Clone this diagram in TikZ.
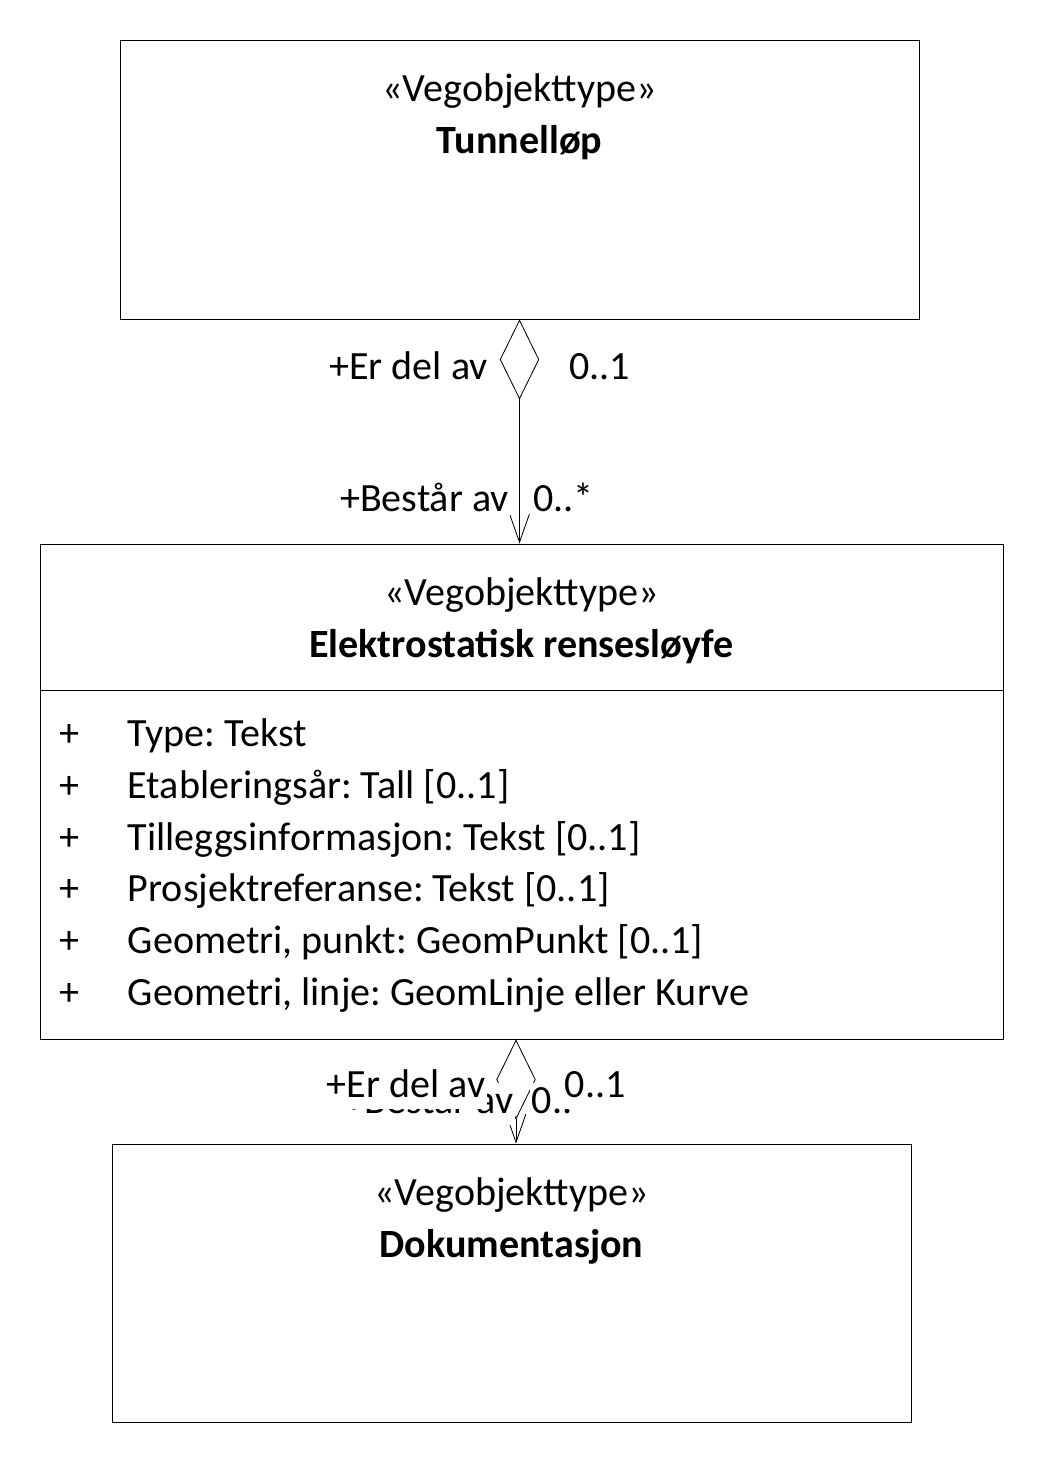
\documentclass[tikz,border=0pt]{standalone}
\usepackage{fontspec}
\setmainfont{Carlito}
\usetikzlibrary{positioning,calc,arrows.meta}

\newcommand{\px}{0.025cm}
\frenchspacing

\begin{document}
\begin{tikzpicture}[x=\px, y=-\px,
  klasse/.style={draw, line width=0.6pt, inner sep=0pt},
  tekst/.style={font=\fontsize{28.5}{34}\selectfont, inner sep=0pt, anchor=base},
  navn/.style={tekst, font=\fontsize{28.5}{34}\selectfont\bfseries},
  rolle/.style={font=\fontsize{28.5}{34}\selectfont, fill=white, inner xsep=1pt, inner ysep=1pt, text height=21pt, text depth=7pt},
  assoc/.style={line width=0.6pt, {Diamond[open, length=57pt, width=28pt]}-{Straight Barb[length=20pt, width=14pt]}}]
  \useasboundingbox (0,0) rectangle (1044,1464);

  % klasser
  \node[klasse, minimum width=799*\px, minimum height=279*\px] (tunnel) at (519.5,179.5) {};
  \node[klasse, minimum width=963*\px, minimum height=495*\px] (elektro) at (521.5,791.5) {};
  \node[klasse, minimum width=799*\px, minimum height=278*\px] (dok) at (511.5,1283) {};

  \node[tekst] (tunnel-stereo) at ($(tunnel.north)+(0,62)$) {«Vegobjekttype»};
  \node[navn] (tunnel-navn) at ($(tunnel-stereo.base)+(0,52)$) {Tunnelløp};
  \node[tekst] (elektro-stereo) at ($(elektro.north)+(0,62)$) {«Vegobjekttype»};
  \node[navn] (elektro-navn) at ($(elektro-stereo.base)+(0,52)$) {Elektrostatisk rensesløyfe};
  \node[tekst] (dok-stereo) at ($(dok.north)+(0,62)$) {«Vegobjekttype»};
  \node[navn] (dok-navn) at ($(dok-stereo.base)+(0,52)$) {Dokumentasjon};

  \draw[line width=0.6pt] ($(elektro.north west)+(0,147)$) -- ($(elektro.north east)+(0,147)$);
  \foreach \attr [count=\i] in {{Type: Tekst}, {Etableringsår: Tall [0..1]}, {Tilleggsinformasjon: Tekst [0..1]},
      {Prosjektreferanse: Tekst [0..1]}, {Geometri, punkt: GeomPunkt [0..1]}, {Geometri, linje: GeomLinje eller Kurve}} {
    \node[tekst, anchor=base west] (pluss-\i) at ($(elektro.north west)+(20,{203+(\i-1)*51.8})$) {+};
    \node[tekst, anchor=base west] (attr-\i) at ($(elektro.north west)+(88,{203+(\i-1)*51.8})$) {\attr};
  }

  % assosiasjoner
  \draw[assoc] (tunnel.south) -- (tunnel.south |- elektro.north);
  \node[rolle, anchor=base east] (del1) at ($(tunnel.south)+(-30,60)$) {+Er del av};
  \node[rolle, anchor=base west] (mult1) at ($(tunnel.south)+(48,60)$) {0..1};
  \node[rolle, anchor=base east] (best1) at ($(elektro.north)+(-11,-32)$) {+Består av};
  \node[rolle, anchor=base west] (mult2) at ($(elektro.north)+(10,-32)$) {0..*};

  \coordinate (kobl-topp) at ($(elektro.south)+(-5.5,0)$);
  \coordinate (kobl-bunn) at (kobl-topp |- dok.north);
  \draw[assoc] (kobl-topp) -- (kobl-bunn);
  \node[rolle, anchor=base east] (best2) at ($(kobl-bunn)+(-1,-30)$) {+Består av};
  \node[rolle, anchor=base west] (mult4) at ($(kobl-bunn)+(14,-30)$) {0..*};
  \node[rolle, anchor=base east] (del2) at ($(kobl-bunn)+(-29,-46)$) {+Er del av};
  \node[rolle, anchor=base west] (mult3) at ($(kobl-bunn)+(47,-46)$) {0..1};
\end{tikzpicture}
\end{document}
